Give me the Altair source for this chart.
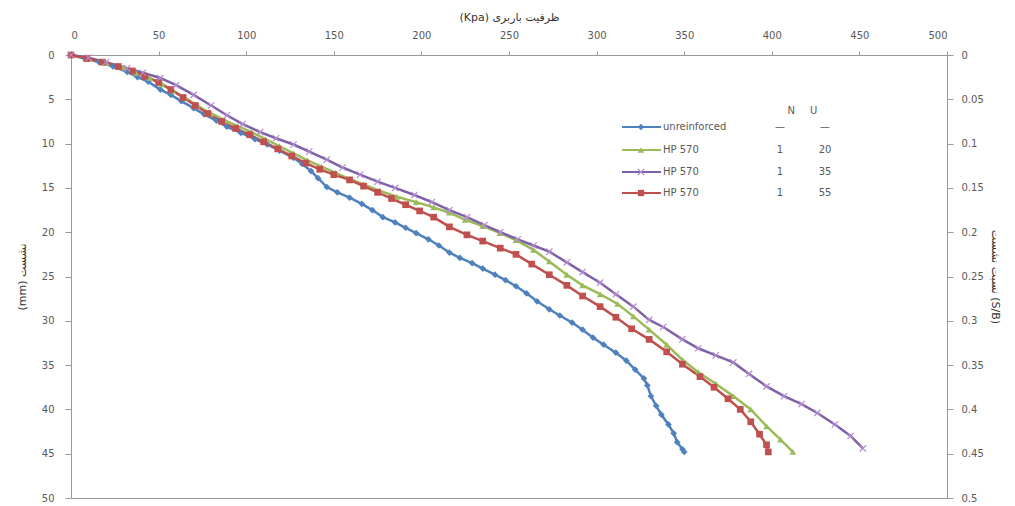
import altair as alt
import pandas as pd

# ---------------- data ----------------
series_keys = ["unreinforced", "U20", "U35", "U55"]
series_labels = ["unreinforced", "HP 570", "HP 570", "HP 570"]
n_values = ["—", "1", "1", "1"]
u_values = ["—", "20", "35", "55"]
series_colors = ["#4F81BD", "#9BBB59", "#7E62A8", "#C0504D"]

blue_load = [0, 8, 16, 24, 32, 38, 44, 51, 57, 63, 70, 76, 83, 89, 97, 105, 112, 119, 127, 132,
             137, 141, 146, 152, 159, 166, 172, 178, 185, 191, 197, 204, 210, 216, 222, 229, 235,
             242, 248, 254, 260, 266, 273, 279, 286, 292, 298, 304, 311, 317, 322, 327, 329, 331,
             334, 337, 341, 344, 346, 349, 350]
blue_set = [0, 0.4, 0.8, 1.3, 1.9, 2.5, 3.0, 3.9, 4.5, 5.2, 6.0, 6.7, 7.4, 8.1, 8.8, 9.5, 10.1,
            10.8, 11.6, 12.3, 13.1, 13.9, 14.9, 15.5, 16.1, 16.8, 17.5, 18.3, 18.9, 19.5, 20.1,
            20.8, 21.5, 22.3, 22.9, 23.5, 24.1, 24.8, 25.4, 26.1, 26.9, 27.8, 28.7, 29.4, 30.2,
            31.0, 31.9, 32.7, 33.6, 34.5, 35.5, 36.5, 37.3, 38.5, 39.6, 40.6, 41.7, 42.7, 43.7,
            44.5, 44.8]

green_load = [0, 10, 20, 30, 37, 45, 52, 58, 65, 72, 80, 88, 95, 103, 111, 119, 127, 135, 143,
              151, 159, 167, 176, 186, 197, 207, 216, 225, 235, 245, 254, 264, 273, 283, 292, 302,
              312, 321, 330, 340, 349, 358, 368, 378, 388, 397, 405, 412]
green_set = [0, 0.4, 0.9, 1.4, 2.0, 2.6, 3.3, 4.0, 4.8, 5.7, 6.6, 7.4, 8.0, 8.7, 9.5, 10.3, 11.1,
             11.9, 12.6, 13.3, 14.0, 14.6, 15.3, 16.0, 16.6, 17.2, 17.8, 18.6, 19.3, 20.1, 20.9,
             22.0, 23.3, 24.8, 26.0, 27.0, 28.1, 29.5, 31.0, 32.7, 34.4, 35.8, 37.1, 38.5, 40.0,
             41.9, 43.4, 44.8]

purple_load = [0, 10, 20, 32, 41, 51, 60, 70, 80, 89, 98, 108, 117, 127, 136, 146, 155, 165, 175,
               185, 196, 206, 216, 226, 236, 245, 255, 264, 273, 283, 292, 302, 311, 321, 330, 338,
               349, 358, 368, 378, 387, 397, 407, 417, 426, 436, 445, 452]
purple_set = [0, 0.3, 0.8, 1.5, 2.0, 2.6, 3.4, 4.5, 5.7, 6.8, 7.8, 8.7, 9.4, 10.1, 10.9, 11.8,
              12.7, 13.5, 14.3, 15.0, 15.8, 16.6, 17.5, 18.3, 19.2, 20.0, 20.8, 21.5, 22.2, 23.4,
              24.5, 25.7, 27.0, 28.4, 29.9, 30.7, 32.1, 33.1, 33.9, 34.7, 36.0, 37.4, 38.5, 39.4,
              40.4, 41.7, 43.0, 44.4]

red_load = [0, 9, 18, 27, 35, 42, 50, 57, 64, 71, 78, 86, 94, 102, 110, 118, 126, 134, 142, 150,
            159, 167, 175, 183, 191, 199, 207, 216, 226, 235, 245, 254, 263, 273, 283, 292, 302,
            311, 320, 330, 340, 349, 359, 367, 375, 382, 388, 393, 397, 398]
red_set = [0, 0.4, 0.8, 1.3, 1.8, 2.4, 3.1, 3.9, 4.8, 5.7, 6.6, 7.5, 8.3, 9.0, 9.8, 10.6, 11.4,
           12.2, 12.9, 13.5, 14.1, 14.8, 15.5, 16.2, 16.9, 17.6, 18.3, 19.4, 20.3, 21.0, 21.8,
           22.5, 23.6, 24.8, 26.0, 27.2, 28.4, 29.6, 30.9, 32.1, 33.5, 34.9, 36.3, 37.5, 38.8,
           40.0, 41.4, 42.8, 44.0, 44.8]

x_ticks = [0, 50, 100, 150, 200, 250, 300, 350, 400, 450, 500]
y_ticks = [0, 5, 10, 15, 20, 25, 30, 35, 40, 45, 50]
ratio_ticks = [0, 0.05, 0.1, 0.15, 0.2, 0.25, 0.3, 0.35, 0.4, 0.45, 0.5]

x_title = "(Kpa) ظرفیت باربری"
y_title = "(mm) نشست"
ratio_title = "نسبت نشست (S/B)"

# ---------------- tables ----------------
rows = []
for key, loads, sets in zip(series_keys,
                            [blue_load, green_load, purple_load, red_load],
                            [blue_set, green_set, purple_set, red_set]):
    for i, (l, s) in enumerate(zip(loads, sets)):
        rows.append({"series": key, "load": l, "settlement": s, "idx": i})
df = pd.DataFrame(rows)

FONT = "DejaVu Sans"
LBL = "#595959"
AX = "#9a9a9a"
XCOL = "#B58BD0"

x_enc = alt.X("load:Q",
              scale=alt.Scale(domain=[0, 500], nice=False, zero=False),
              axis=alt.Axis(orient="top", values=x_ticks, title=x_title, grid=False,
                            domainColor=AX, tickColor=AX, tickSize=4, labelPadding=11,
                            labelFont=FONT, labelFontSize=10, labelColor=LBL,
                            titleFont=FONT, titleFontSize=11, titleColor="#333",
                            titleFontWeight="normal", titlePadding=8))
y_enc = alt.Y("settlement:Q",
              scale=alt.Scale(domain=[0, 50], reverse=True, nice=False),
              axis=alt.Axis(orient="left", values=y_ticks, title=y_title, grid=False,
                            domainColor=AX, tickColor=AX, tickSize=6, labelPadding=11,
                            labelFont=FONT, labelFontSize=10, labelColor=LBL,
                            titleFont=FONT, titleFontSize=11, titleColor="#333",
                            titleFontWeight="normal", titlePadding=14))
color = alt.Color("series:N", scale=alt.Scale(domain=series_keys, range=series_colors), legend=None)

base = alt.Chart(df)
lines = base.mark_line(strokeWidth=2.5).encode(x=x_enc, y=y_enc, color=color, order="idx:Q")
pts = base.transform_filter(alt.datum.series != "U35").mark_point(
    filled=True, size=45, opacity=1).encode(
    x=x_enc, y=y_enc, color=color,
    shape=alt.Shape("series:N",
                    scale=alt.Scale(domain=["unreinforced", "U20", "U55"],
                                    range=["diamond", "triangle-up", "square"]),
                    legend=None))
XPATH = "M-1,-1L1,1M-1,1L1,-1"
crosses = base.transform_filter(alt.datum.series == "U35").mark_point(
    shape=XPATH, filled=False, size=40, strokeWidth=1.2, color=XCOL, opacity=1).encode(
    x=x_enc, y=y_enc)
main = alt.layer(lines, pts, crosses)

ratio_df = pd.DataFrame({"ratio": [ratio_ticks[0], ratio_ticks[-1]]})
right = alt.Chart(ratio_df).mark_point(opacity=0).encode(
    y=alt.Y("ratio:Q", scale=alt.Scale(domain=[0, 0.5], reverse=True, nice=False),
            axis=alt.Axis(orient="right", values=ratio_ticks, format="~g", title=ratio_title,
                          grid=False, domainColor=AX, tickColor=AX, tickSize=6, labelPadding=8,
                          labelFont=FONT, labelFontSize=10, labelColor=LBL,
                          titleFont=FONT, titleFontSize=11, titleColor="#333",
                          titleFontWeight="normal", titleAngle=90, titlePadding=6)))

# ---------------- custom legend (table with N / U columns) ----------------
row_y = [72, 95, 117, 138]
leg_df = pd.DataFrame({"series": series_keys, "label": series_labels,
                       "n": n_values, "u": u_values, "ly": row_y})
hdr_df = pd.DataFrame({"t": ["N", "U"], "ly": [56, 56], "col": ["n", "u"]})
ly = alt.Y("ly:Q", scale=None, axis=None)
lbase = alt.Chart(leg_df)
leg_lines = lbase.mark_rule(strokeWidth=2).encode(
    x=alt.value(551), x2=alt.value(590), y=ly, color=color)
leg_pts = lbase.transform_filter(alt.datum.series != "U35").mark_point(
    filled=True, size=40, opacity=1).encode(
    x=alt.value(570), y=ly, color=color,
    shape=alt.Shape("series:N",
                    scale=alt.Scale(domain=["unreinforced", "U20", "U55"],
                                    range=["diamond", "triangle-up", "square"]),
                    legend=None))
leg_x = lbase.transform_filter(alt.datum.series == "U35").mark_point(
    shape=XPATH, filled=False, size=40, strokeWidth=1.2, color=XCOL, opacity=1).encode(
    x=alt.value(570), y=ly)
txt = dict(font=FONT, fontSize=10, color=LBL, baseline="middle")
leg_lbl = lbase.mark_text(align="left", **txt).encode(x=alt.value(592), y=ly, text="label:N")
leg_n = lbase.mark_text(align="center", **txt).encode(x=alt.value(709), y=ly, text="n:N")
leg_u = lbase.mark_text(align="center", **txt).encode(x=alt.value(754), y=ly, text="u:N")
hdr = alt.Chart(hdr_df).mark_text(align="center", **txt).encode(
    x=alt.X("col:N", scale=alt.Scale(domain=["n", "u"], range=[709, 754]), axis=None),
    y=ly, text="t:N")

chart = alt.layer(main, right, leg_lines, leg_pts, leg_x, leg_lbl, leg_n, leg_u, hdr).resolve_scale(
    y="independent", x="independent"
).properties(
    width=876, height=443,
    autosize=alt.AutoSizeParams(type="none"),
    padding={"left": 71, "top": 55, "right": 68, "bottom": 8},
    background="white",
).configure_view(stroke=AX, strokeWidth=1)

chart.save("out.html", embed_options={"renderer": "svg", "actions": False})
